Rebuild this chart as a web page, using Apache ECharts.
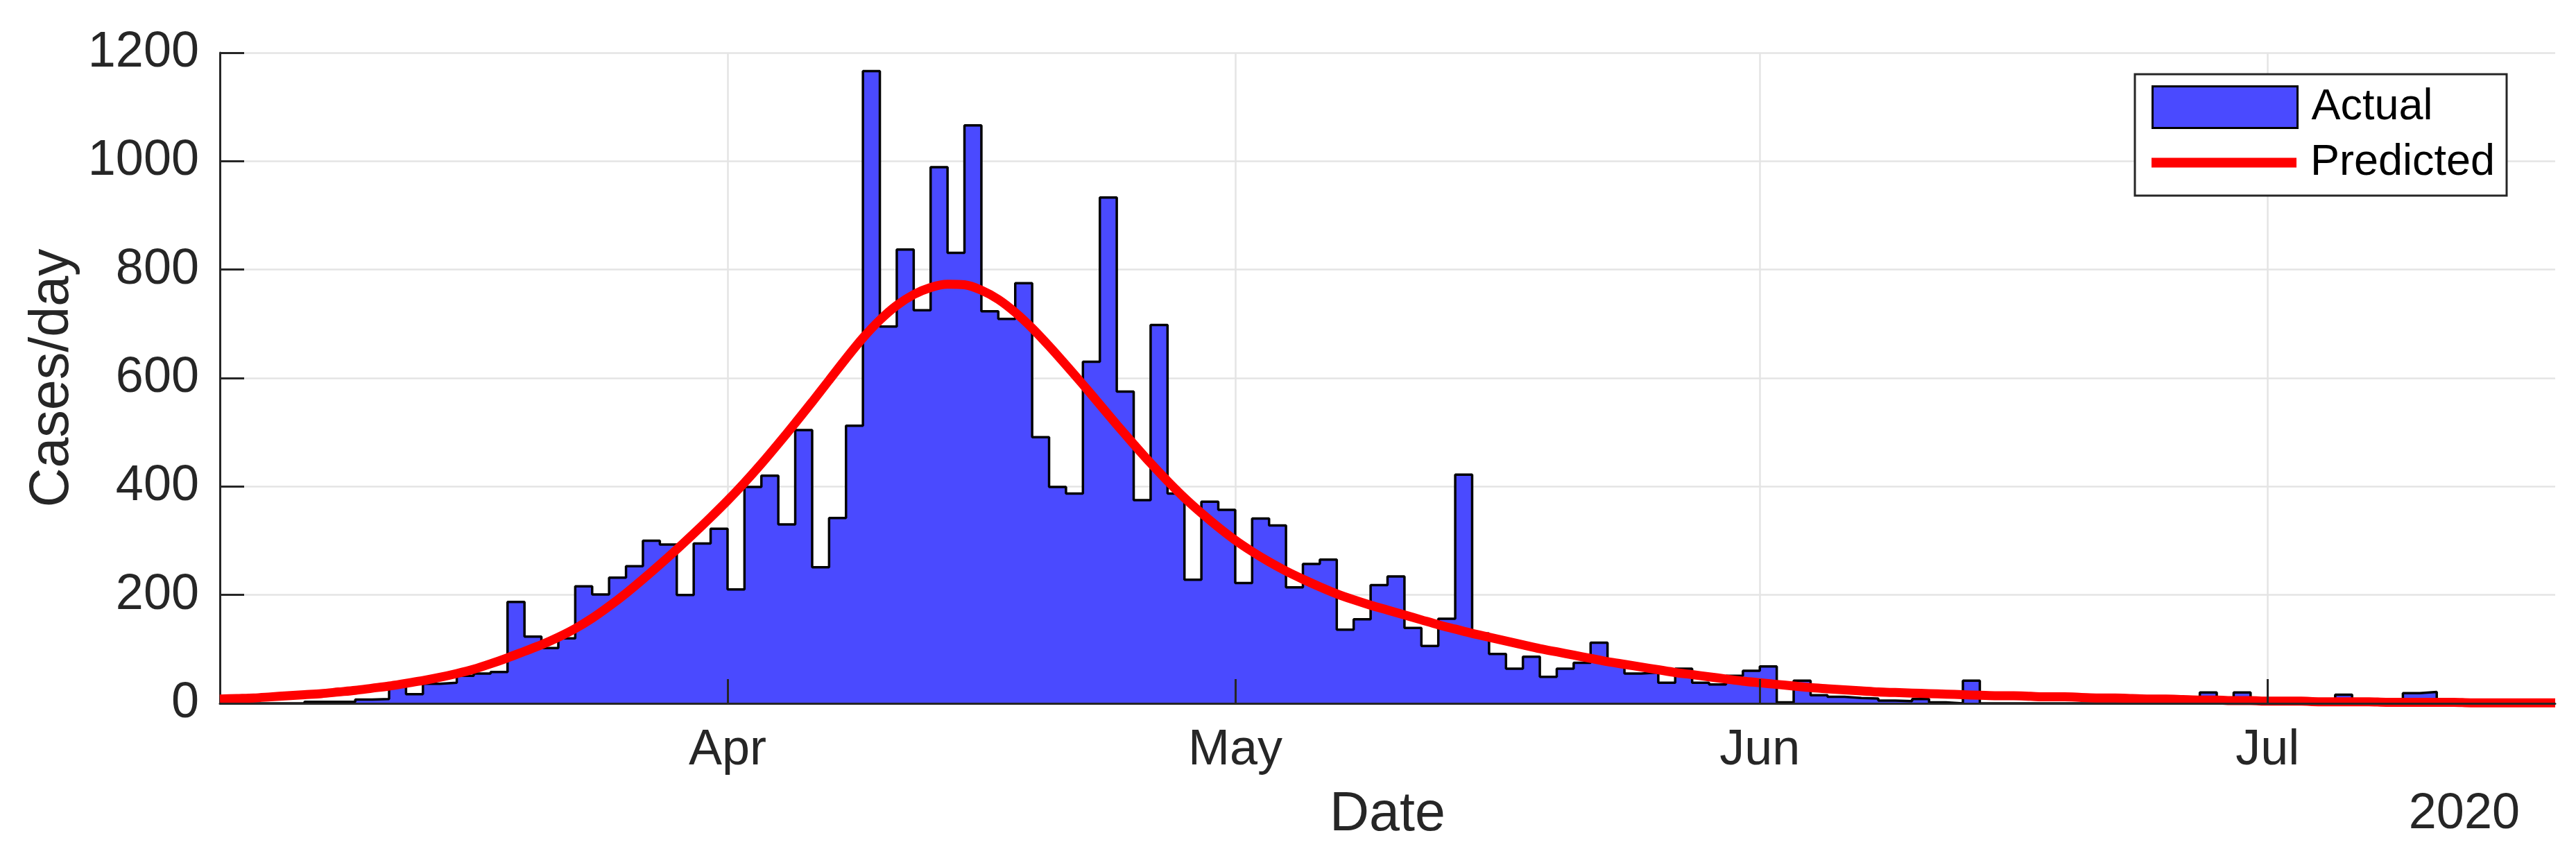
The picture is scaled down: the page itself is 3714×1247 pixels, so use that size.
<!DOCTYPE html>
<html><head><meta charset="utf-8">
<script src="https://cdn.jsdelivr.net/npm/echarts@6/dist/echarts.min.js"></script>
<style>html,body{margin:0;padding:0;background:#fff}#chart{width:3714px;height:1247px}</style>
</head><body><div id="chart"></div>
<script>
// ---- data ----
const firstDay = [2020, 2, 2];          // 2 Mar 2020 (first daily bin)
const lastDayExclusive = [2020, 6, 18]; // 18 Jul 2020 (end of x range)
const monthTicks = [[2020, 3, 1], [2020, 4, 1], [2020, 5, 1], [2020, 6, 1]]; // Apr..Jul
const monthNames = ['Jan','Feb','Mar','Apr','May','Jun','Jul','Aug','Sep','Oct','Nov','Dec'];
const yearLabel = '2020';
const yMin = 0, yMax = 1200, yStep = 200;
const seriesNames = ['Actual', 'Predicted'];
// daily reported cases, one value per day starting 2 Mar 2020
const actualCases = [
  0,0,0,0,0,3,3,3,7,8,
  36,17,36,38,51,55,58,187,123,102,
  120,216,201,232,253,300,293,200,295,322,
  210,399,420,330,504,251,342,512,1166,695,
  837,725,989,831,1066,723,709,775,491,399,
  387,630,933,575,375,698,387,228,372,357,
  222,341,328,214,257,265,136,155,218,234,
  139,106,156,422,129,91,64,86,49,64,
  75,112,75,55,57,38,64,38,35,51,
  60,68,2,42,15,12,10,9,5,4,
  8,2,0,42,0,0,0,0,0,0,
  0,0,0,0,0,0,0,20,0,20,
  0,0,5,0,5,16,0,0,0,19,
  21,0,0,0,0,0,0,0
];
// predicted cases/day, one value per day starting 2 Mar 2020
const predictedCases = [
  8,9,10,12,14,16,18,21,24,28,
  32,37,42,48,55,63,73,84,96,108,
  122,138,157,179,203,229,256,284,313,343,
  374,407,442,479,517,556,596,636,674,707,
  734,754,767,773,772,762,745,721,692,659,
  624,588,551,514,478,443,410,379,351,325,
  301,280,261,244,229,215,202,191,181,172,
  163,154,145,137,129,122,115,108,101,95,
  89,83,77,72,67,62,57,53,49,45,
  41,38,35,32,29,27,25,23,21,20,
  19,18,17,16,15,14,14,13,12,12,
  11,10,10,9,8,8,7,6,6,5,
  5,4,4,4,3,3,3,3,2,2,
  2,2,2,1,1,1,1,1,1
];

// ---- build ----
const dayTs = k => new Date(firstDay[0], firstDay[1], firstDay[2] + k).getTime();
const xMin = dayTs(0);
const xMax = new Date(lastDayExclusive[0], lastDayExclusive[1], lastDayExclusive[2]).getTime();
const tickValues = monthTicks.map(d => new Date(d[0], d[1], d[2]).getTime());
const actualData = actualCases.map((v, k) => [dayTs(k), v]);
actualData.push([dayTs(actualCases.length), actualCases[actualCases.length - 1]]);
const predictedData = predictedCases.map((v, k) => [dayTs(k), v]);

const FONT = '"Liberation Sans", Arial, Helvetica, sans-serif';
const AX = '#262626';
const GRID = '#e4e4e4';
const BLUE = '#4a4aff';

const chart = echarts.init(document.getElementById('chart'), null, {renderer: 'canvas'});
const timeAxisBase = {
  type: 'time', min: xMin, max: xMax, position: 'bottom',
  splitNumber: 5, minInterval: 28 * 86400000, maxInterval: 31 * 86400000
};
chart.setOption({
  animation: false,
  backgroundColor: '#fff',
  grid: {left: 317, right: 30, top: 76, bottom: 233, containLabel: false},
  xAxis: [
    Object.assign({}, timeAxisBase, {
      name: 'Date', nameLocation: 'middle', nameGap: 122,
      nameTextStyle: {fontFamily: FONT, fontSize: 79, color: AX},
      axisLine: {show: false}, axisTick: {show: false},
      axisLabel: {
        fontFamily: FONT, fontSize: 72, color: AX, margin: 32,
        showMinLabel: false, showMaxLabel: false,
        formatter: v => monthNames[new Date(v).getMonth()]
      },
      splitLine: {show: true, showMinLine: false, showMaxLine: false, lineStyle: {color: GRID, width: 2.5}}
    }),
    Object.assign({}, timeAxisBase, {
      z: 10,
      axisLine: {show: true, lineStyle: {color: AX, width: 3}},
      axisTick: {show: true, inside: true, length: 35, customValues: tickValues, lineStyle: {color: AX, width: 3}},
      axisLabel: {show: false}, splitLine: {show: false}
    })
  ],
  yAxis: {
    type: 'value', min: yMin, max: yMax, interval: yStep,
    name: 'Cases/day', nameLocation: 'middle', nameGap: 181,
    nameTextStyle: {fontFamily: FONT, fontSize: 79, color: AX},
    axisLine: {show: true, lineStyle: {color: AX, width: 3}},
    axisTick: {show: true, inside: true, length: 35, lineStyle: {color: AX, width: 3}},
    axisLabel: {fontFamily: FONT, fontSize: 72, color: AX, margin: 30, formatter: v => String(v)},
    splitLine: {show: true, lineStyle: {color: GRID, width: 2.5}}
  },
  legend: [
    {
      data: [{name: seriesNames[0], icon: 'rect', itemStyle: {color: BLUE, borderColor: '#000', borderWidth: 3}}],
      left: 3102, top: 123, padding: 0, itemWidth: 209, itemHeight: 60, z: 60,
      selectedMode: false,
      textStyle: {fontFamily: FONT, fontSize: 63, color: '#000', padding: [0, 0, 0, 15]}
    },
    {
      data: [{name: seriesNames[1], icon: 'rect', itemStyle: {color: '#ff0000', borderWidth: 0}}],
      left: 3102, top: 203, padding: 0, itemWidth: 209, itemHeight: 14, z: 60,
      selectedMode: false,
      textStyle: {fontFamily: FONT, fontSize: 63, color: '#000', padding: [0, 0, 0, 15]}
    }
  ],
  graphic: [
    {type: 'rect', z: 50, shape: {x: 3078, y: 107, width: 536, height: 175},
     style: {fill: '#fff', stroke: AX, lineWidth: 3}},
    {type: 'text', z: 50, x: 3633, y: 1174,
     style: {text: yearLabel, fontFamily: FONT, fontSize: 72, fill: AX, align: 'right', verticalAlign: 'middle'}}
  ],
  series: [
    {
      name: seriesNames[0], type: 'line', xAxisIndex: 0, step: 'end',
      data: actualData, symbol: 'none', showSymbol: false, clip: true, z: 2,
      itemStyle: {color: BLUE},
      lineStyle: {color: '#000', width: 3.5},
      areaStyle: {color: BLUE, opacity: 1}
    },
    {
      name: seriesNames[1], type: 'line', xAxisIndex: 0, smooth: 0.3,
      data: predictedData, symbol: 'none', showSymbol: false, clip: true, z: 3,
      itemStyle: {color: '#ff0000'},
      lineStyle: {color: '#ff0000', width: 13}
    }
  ]
});
</script></body></html>
